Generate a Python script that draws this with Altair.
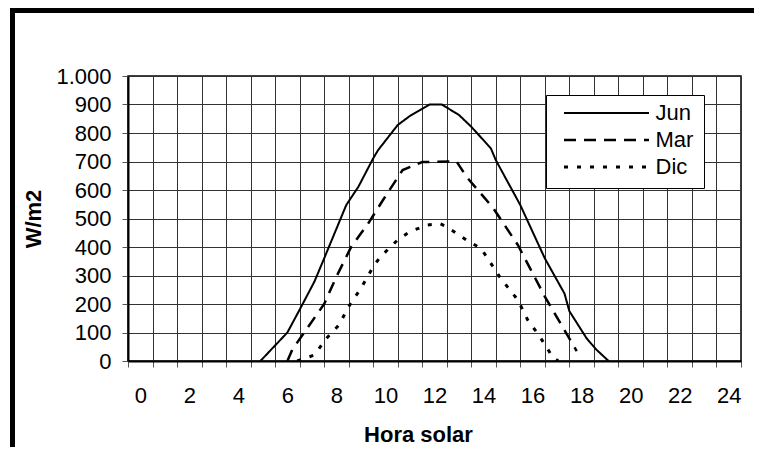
import altair as alt
import pandas as pd

# ---- data ----
series_names = ["Jun", "Mar", "Dic"]

jun_hours = [4.9, 6.0, 6.5, 7.1, 7.5, 8.4, 8.9, 9.5, 9.7, 10.5, 11.0, 11.8, 12.3,
             13.0, 13.5, 14.3, 14.5, 15.5, 16.5, 17.3, 17.5, 18.2, 18.6, 19.1]
jun_values = [0, 100, 180, 278, 360, 547, 612, 711, 740, 828, 860, 900, 900,
              863, 822, 746, 705, 547, 360, 237, 175, 80, 40, 0]

mar_hours = [6.0, 6.2, 7.5, 8.0, 8.6, 9.3, 9.9, 10.7, 11.5, 12.9, 13.3, 14.4, 15.4, 16.5, 17.8]
mar_values = [0, 40, 200, 296, 400, 483, 565, 670, 698, 700, 647, 536, 407, 226, 35]

dic_hours = [6.4, 7.1, 7.6, 8.1, 8.5, 9.0, 9.5, 9.8, 10.5, 11.0, 11.7, 12.2, 12.5,
             13.4, 13.9, 14.7, 15.4, 15.8, 16.2, 16.6, 16.8, 17.05]
dic_values = [0, 21, 80, 126, 191, 255, 331, 366, 425, 454, 477, 483, 471,
              419, 395, 290, 214, 144, 97, 45, 15, 0]

x_label_values = list(range(0, 25, 2))
y_tick_values = list(range(0, 1001, 100))

# ---- long table ----
rows = []
for name, hs, vs in [("Jun", jun_hours, jun_values),
                     ("Mar", mar_hours, mar_values),
                     ("Dic", dic_hours, dic_values)]:
    for h, v in zip(hs, vs):
        rows.append({"serie": name, "hora": h, "wm2": v})
df = pd.DataFrame(rows)

# grid boundaries between hourly categories
x_grid_values = [h - 0.5 for h in range(26)]

FONT = "Liberation Sans"
W, H = 613, 285

lines = alt.Chart(df).mark_line(color="black", clip=True).encode(
    x=alt.X(
        "hora:Q",
        scale=alt.Scale(domain=[-0.5, 24.5], nice=False, zero=False),
        axis=alt.Axis(
            values=x_grid_values,
            labelExpr="((datum.value + 0.5) % 2 == 0 && datum.value < 24) ? format(datum.value + 0.5, 'd') : ''",
            labelOffset=W / 25 / 2,
            labelOverlap=False,
            labelFlush=False,
            labelBound=False,
            labelPadding=18,
            labelFontSize=22,
            labelColor="black",
            grid=True,
            gridColor="#333333",
            gridWidth=1,
            tickSize=6,
            tickColor="#555555",
            domainColor="black",
            domainWidth=2,
            title="Hora solar",
            titleFontSize=22,
            titleFontWeight="bold",
            titleColor="black",
            titleX=290,
            titleY=73,
            titleBaseline="middle",
            titleAlign="center",
        ),
    ),
    y=alt.Y(
        "wm2:Q",
        scale=alt.Scale(domain=[0, 1000], nice=False),
        axis=alt.Axis(
            values=y_tick_values,
            labelExpr="replace(format(datum.value, ','), ',', '.')",
            labelOverlap=False,
            labelFlush=False,
            labelPadding=11,
            labelFontSize=22,
            labelColor="black",
            grid=True,
            gridColor="#333333",
            gridWidth=1,
            tickSize=6,
            tickColor="#555555",
            domainColor="black",
            domainWidth=2,
            title="W/m2",
            titleFontSize=22,
            titleFontWeight="bold",
            titleColor="black",
            titleAngle=270,
            titleX=-95,
            titleY=H / 2,
            titleBaseline="middle",
            titleAlign="center",
        ),
    ),
    strokeDash=alt.StrokeDash(
        "serie:N",
        scale=alt.Scale(domain=series_names, range=[[1, 0], [12, 8], [4, 9]]),
        legend=alt.Legend(
            title=None,
            orient="none",
            legendX=418,
            legendY=19,
            symbolType="stroke",
            symbolSize=7225,
            symbolStrokeWidth=3,
            symbolStrokeColor="black",
            symbolOffset=6.5,
            labelOffset=5,
            labelFontSize=22,
            labelColor="black",
            labelFont=FONT,
            padding=10,
            rowPadding=5,
            clipHeight=16,
            strokeColor="black",
            fillColor="white",
        ),
    ),
    strokeWidth=alt.StrokeWidth(
        "serie:N",
        scale=alt.Scale(domain=series_names, range=[2, 3, 3]),
        legend=None,
    ),
)

border = alt.Chart(pd.DataFrame({"k": [0]})).mark_rect(
    fill="transparent", stroke="black", strokeWidth=5, clip=False
).encode(
    x=alt.value(-115.5), x2=alt.value(720),
    y=alt.value(-65.5), y2=alt.value(520),
)

chart = alt.layer(lines, border).properties(
    width=W,
    height=H,
    autosize=alt.AutoSizeParams(type="none"),
    padding={"left": 120, "top": 68, "right": 13, "bottom": 86},
).configure(
    font=FONT,
).configure_view(
    stroke="black",
    strokeWidth=1.5,
)

chart.save("out.html", embed_options={"renderer": "svg", "actions": False})
